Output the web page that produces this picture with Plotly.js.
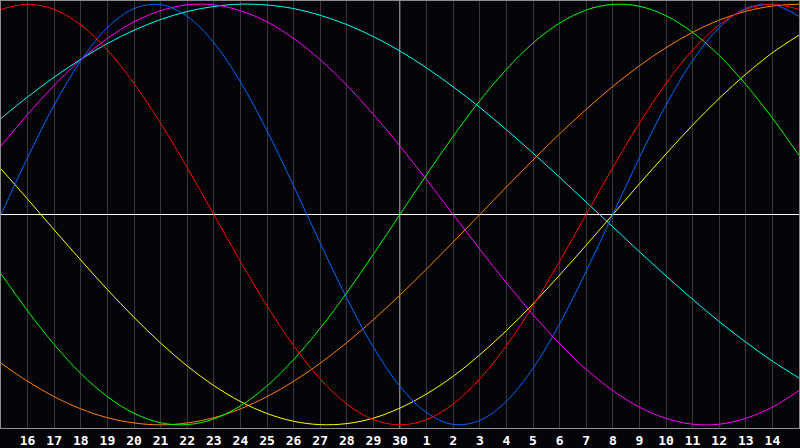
<!DOCTYPE html>
<html>
<head>
<meta charset="utf-8">
<script src="https://cdn.plot.ly/plotly-3.0.1.min.js"></script>
<style>
  html, body { margin: 0; padding: 0; background: #050408; }
  #myDiv { width: 800px; height: 448px; }
</style>
</head>
<body>
<div id="myDiv"></div>
<script>
// day positions along the chart (0 = left edge, 15 = centre line, 30 = right edge)
var days = [0,1,2,3,4,5,6,7,8,9,10,11,12,13,14,15,16,17,18,19,20,21,22,23,24,25,26,27,28,29,30];
var tickPos = [1,2,3,4,5,6,7,8,9,10,11,12,13,14,15,16,17,18,19,20,21,22,23,24,25,26,27,28,29];
var tickLabels = ['16','17','18','19','20','21','22','23','24','25','26','27','28','29','30',
  '1','2','3','4','5','6','7','8','9','10','11','12','13','14'];

// cycle values, one per day
var red = [0.975,1.000,0.975,0.901,0.782,0.623,0.434,0.223,0.000,-0.223,-0.434,-0.623,-0.782,-0.901,-0.975,-1.000,
  -0.975,-0.901,-0.782,-0.623,-0.434,-0.223,0.000,0.223,0.434,0.623,0.782,0.901,0.975,1.000,0.975];
var green = [-0.282,-0.458,-0.618,-0.756,-0.866,-0.945,-0.990,-0.999,-0.972,-0.910,-0.815,-0.690,-0.541,-0.372,-0.189,0.000,
  0.189,0.372,0.541,0.690,0.815,0.910,0.972,0.999,0.990,0.945,0.866,0.756,0.618,0.458,0.282];
var blue = [0.000,0.270,0.520,0.731,0.888,0.979,0.998,0.942,0.817,0.631,0.398,0.136,-0.136,-0.398,-0.631,-0.817,
  -0.942,-0.998,-0.979,-0.888,-0.731,-0.520,-0.270,0.000,0.270,0.520,0.731,0.888,0.979,0.998,0.942];
var magenta = [0.325,0.476,0.614,0.736,0.837,0.916,0.969,0.997,0.997,0.969,0.916,0.837,0.736,0.614,0.476,0.325,
  0.165,0.000,-0.165,-0.325,-0.476,-0.614,-0.736,-0.837,-0.916,-0.969,-0.997,-0.997,-0.969,-0.916,-0.837];
var yellow = [0.217,0.073,-0.073,-0.217,-0.357,-0.489,-0.611,-0.720,-0.813,-0.889,-0.946,-0.983,-0.999,-0.994,-0.968,-0.920,
  -0.853,-0.769,-0.667,-0.552,-0.425,-0.288,-0.146,0.000,0.146,0.288,0.425,0.552,0.667,0.769,0.853];
var orange = [-0.707,-0.793,-0.866,-0.924,-0.966,-0.991,-1.000,-0.991,-0.966,-0.924,-0.866,-0.793,-0.707,-0.609,-0.500,-0.383,
  -0.259,-0.131,0.000,0.131,0.259,0.383,0.500,0.609,0.707,0.793,0.866,0.924,0.966,0.991,1.000];
var cyan = [0.457,0.559,0.653,0.738,0.813,0.876,0.927,0.965,0.989,1.000,0.996,0.979,0.947,0.903,0.846,0.777,
  0.697,0.607,0.509,0.403,0.292,0.177,0.059,-0.059,-0.177,-0.292,-0.403,-0.509,-0.607,-0.697,-0.777];

function curve(vals, color) {
  return {
    x: days,
    y: vals,
    mode: 'lines',
    line: { color: color, width: 1, shape: 'spline', smoothing: 1 },
    hoverinfo: 'skip',
    showlegend: false
  };
}

var data = [
  curve(cyan, '#00ffff'),
  curve(orange, '#ff8000'),
  curve(yellow, '#ffff00'),
  curve(magenta, '#ff00ff'),
  curve(green, '#00ff00'),
  curve(blue, '#0066ff'),
  curve(red, '#ff0000')
];

var layout = {
  width: 800,
  height: 448,
  margin: { l: 1, r: 1, t: 1, b: 20 },
  paper_bgcolor: '#050408',
  plot_bgcolor: '#050408',
  xaxis: {
    range: [0, 30],
    tickvals: tickPos,
    ticktext: tickLabels,
    tickangle: 0,
    showgrid: true,
    gridcolor: '#383838',
    gridwidth: 1,
    zeroline: false,
    showline: true,
    linecolor: '#8c8c8c',
    linewidth: 1,
    mirror: true,
    ticks: '',
    tickfont: { family: 'DejaVu Sans Mono, monospace', size: 13, color: '#ffffff', weight: 'bold' },
    fixedrange: true
  },
  yaxis: {
    range: [-1.015, 1.015],
    showgrid: false,
    zeroline: true,
    zerolinecolor: '#ffffff',
    zerolinewidth: 1,
    showticklabels: false,
    showline: true,
    linecolor: '#8c8c8c',
    linewidth: 1,
    mirror: true,
    ticks: '',
    fixedrange: true
  },
  shapes: [{
    type: 'line', xref: 'x', yref: 'paper',
    x0: 15, x1: 15, y0: 0, y1: 1,
    line: { color: '#ffffff', width: 1 },
    layer: 'below'
  }]
};

Plotly.newPlot('myDiv', data, layout, { staticPlot: true, displayModeBar: false });
</script>
</body>
</html>
